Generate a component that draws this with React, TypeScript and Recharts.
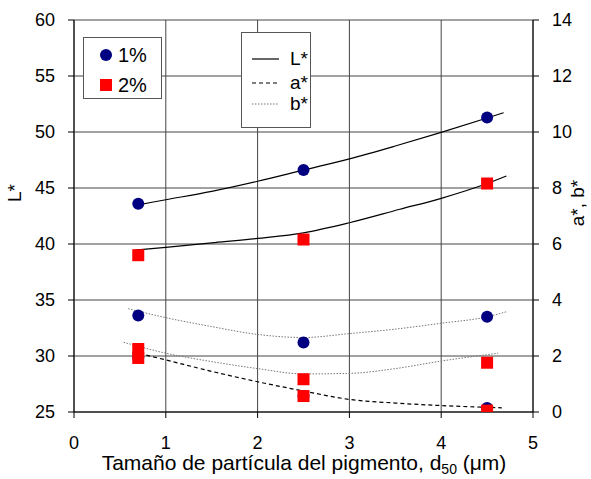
import * as React from 'react';
import {
  ComposedChart,
  Line,
  Scatter,
  XAxis,
  YAxis,
  CartesianGrid,
  Label,
} from 'recharts';

// measured points (particle size d50, µm)
const sizes = [0.7, 2.5, 4.5];
const lStar1 = [43.6, 46.6, 51.3];
const lStar2 = [39.0, 40.4, 45.4];
const bStar1 = [3.45, 2.48, 3.4];
const bStar2 = [2.25, 1.17, 1.76];
const aStar1 = [1.95, 0.57, 0.14];
const aStar2 = [1.93, 0.57, 0.05];

// fitted curves
const lFit1X = [0.7, 1, 1.5, 2, 2.5, 3, 3.5, 4, 4.5, 4.68];
const lFit1Y = [43.5, 43.95, 44.7, 45.6, 46.6, 47.6, 48.75, 49.97, 51.25, 51.72];
const lFit2X = [0.66, 1, 1.5, 2, 2.5, 3, 3.55, 4, 4.5, 4.71];
const lFit2Y = [39.46, 39.7, 40.1, 40.5, 41.0, 41.9, 43.1, 44.08, 45.4, 46.07];
const bFit1X = [0.59, 1, 1.5, 2, 2.5, 3, 3.5, 4, 4.5, 4.71];
const bFit1Y = [3.69, 3.37, 3.05, 2.77, 2.66, 2.8, 2.96, 3.17, 3.4, 3.58];
const bFit2X = [0.54, 1, 1.5, 2, 2.5, 3, 3.5, 4, 4.62];
const bFit2Y = [2.49, 2.1, 1.8, 1.55, 1.36, 1.38, 1.55, 1.82, 2.1];
const aFitX = [0.64, 1, 1.5, 2, 2.5, 3, 3.5, 4, 4.66];
const aFitY = [2.15, 1.86, 1.45, 1.08, 0.75, 0.45, 0.32, 0.23, 0.15];

const xTicks = [0, 1, 2, 3, 4, 5];
const lTicks = [25, 30, 35, 40, 45, 50, 55, 60];
const abTicks = [0, 2, 4, 6, 8, 10, 12, 14];

const zip = (xs: number[], ys: number[]) => xs.map((x, i) => ({ x, y: ys[i] }));

const FONT = '"Liberation Sans", Arial, sans-serif';
const NAVY = '#000080';
const RED = '#ff0000';

const Dot = (props: any) => <circle cx={props.cx} cy={props.cy} r={6} fill={NAVY} />;
const Square = (props: any) => (
  <rect x={props.cx - 6} y={props.cy - 6} width={12} height={12} fill={RED} />
);

const tickStyle = { fill: '#000', fontSize: 18, fontFamily: FONT };

export default function App() {
  return (
    <div style={{ position: 'absolute', left: 0, top: 0, width: 591, height: 479, background: '#fff', fontFamily: FONT }}>
      <ComposedChart width={591} height={479} margin={{ top: 20, right: 0, bottom: 0, left: 0 }}>
        <CartesianGrid yAxisId="L" stroke="#444" strokeWidth={1} />
        <XAxis
          type="number"
          dataKey="x"
          domain={[0, 5]}
          ticks={xTicks}
          allowDataOverflow
          height={67}
          stroke="#000"
          tickSize={6}
          tickMargin={18}
          tick={tickStyle}
        >
          <Label
            content={() => (
              <text x={304} y={470} textAnchor="middle" fontSize={21} fontFamily={FONT} fill="#000">
                Tamaño de partícula del pigmento, d
                <tspan dy={4} fontSize={14}>50</tspan>
                <tspan dy={-4}> (μm)</tspan>
              </text>
            )}
          />
        </XAxis>
        <YAxis
          yAxisId="L"
          orientation="left"
          domain={[25, 60]}
          ticks={lTicks}
          allowDataOverflow
          width={74}
          stroke="#000"
          tickSize={6}
          tickMargin={13}
          tick={tickStyle}
        >
          <Label
            content={() => (
              <text x={21} y={193} transform="rotate(-90 21 193)" textAnchor="middle" fontSize={19} fontFamily={FONT} fill="#000">
                L*
              </text>
            )}
          />
        </YAxis>
        <YAxis
          yAxisId="ab"
          orientation="right"
          domain={[0, 14]}
          ticks={abTicks}
          allowDataOverflow
          width={58}
          stroke="#000"
          tickSize={6}
          tickMargin={13}
          tick={tickStyle}
        >
          <Label
            content={() => (
              <text x={584} y={203} transform="rotate(-90 584 203)" textAnchor="middle" fontSize={19} fontFamily={FONT} fill="#000">
                a*, b*
              </text>
            )}
          />
        </YAxis>

        <Line data={zip(lFit1X, lFit1Y)} yAxisId="L" dataKey="y" type="monotone" stroke="#000" strokeWidth={1.2} dot={false} isAnimationActive={false} />
        <Line data={zip(lFit2X, lFit2Y)} yAxisId="L" dataKey="y" type="monotone" stroke="#000" strokeWidth={1.2} dot={false} isAnimationActive={false} />
        <Line data={zip(bFit1X, bFit1Y)} yAxisId="ab" dataKey="y" type="monotone" stroke="#777" strokeWidth={1} strokeDasharray="1.5 1.5" dot={false} isAnimationActive={false} />
        <Line data={zip(bFit2X, bFit2Y)} yAxisId="ab" dataKey="y" type="monotone" stroke="#777" strokeWidth={1} strokeDasharray="1.5 1.5" dot={false} isAnimationActive={false} />
        <Line data={zip(aFitX, aFitY)} yAxisId="ab" dataKey="y" type="monotone" stroke="#000" strokeWidth={1.2} strokeDasharray="4 3" dot={false} isAnimationActive={false} />

        <Scatter data={zip(sizes, lStar1)} yAxisId="L" dataKey="y" shape={Dot} isAnimationActive={false} />
        <Scatter data={zip(sizes, bStar1)} yAxisId="ab" dataKey="y" shape={Dot} isAnimationActive={false} />
        <Scatter data={zip(sizes, aStar1)} yAxisId="ab" dataKey="y" shape={Dot} isAnimationActive={false} />
        <Scatter data={zip(sizes, lStar2)} yAxisId="L" dataKey="y" shape={Square} isAnimationActive={false} />
        <Scatter data={zip(sizes, bStar2)} yAxisId="ab" dataKey="y" shape={Square} isAnimationActive={false} />
        <Scatter data={zip(sizes, aStar2)} yAxisId="ab" dataKey="y" shape={Square} isAnimationActive={false} />
      </ComposedChart>

      <div style={{ position: 'absolute', left: 83, top: 37, width: 77, height: 60, border: '1px solid #555', background: '#fff', fontSize: 20 }}>
        <div style={{ position: 'absolute', left: 16, top: 11, width: 12, height: 12, borderRadius: 6, background: NAVY }} />
        <div style={{ position: 'absolute', left: 34, top: 5, lineHeight: '24px' }}>1%</div>
        <div style={{ position: 'absolute', left: 16, top: 41, width: 12, height: 12, background: RED }} />
        <div style={{ position: 'absolute', left: 34, top: 35, lineHeight: '24px' }}>2%</div>
      </div>

      <div style={{ position: 'absolute', left: 241, top: 32, width: 68, height: 94, border: '1px solid #555', background: '#fff', fontSize: 19 }}>
        <svg style={{ position: 'absolute', left: 0, top: 0 }} width={68} height={94}>
          <line x1={10} x2={37} y1={26} y2={26} stroke="#000" strokeWidth={1.2} />
          <line x1={10} x2={37} y1={50} y2={50} stroke="#000" strokeWidth={1.2} strokeDasharray="4 3" />
          <line x1={10} x2={37} y1={71} y2={71} stroke="#777" strokeWidth={1} strokeDasharray="1.5 1.5" />
        </svg>
        <div style={{ position: 'absolute', left: 48, top: 14, lineHeight: '24px' }}>L*</div>
        <div style={{ position: 'absolute', left: 48, top: 38, lineHeight: '24px' }}>a*</div>
        <div style={{ position: 'absolute', left: 48, top: 59, lineHeight: '24px' }}>b*</div>
      </div>
    </div>
  );
}
